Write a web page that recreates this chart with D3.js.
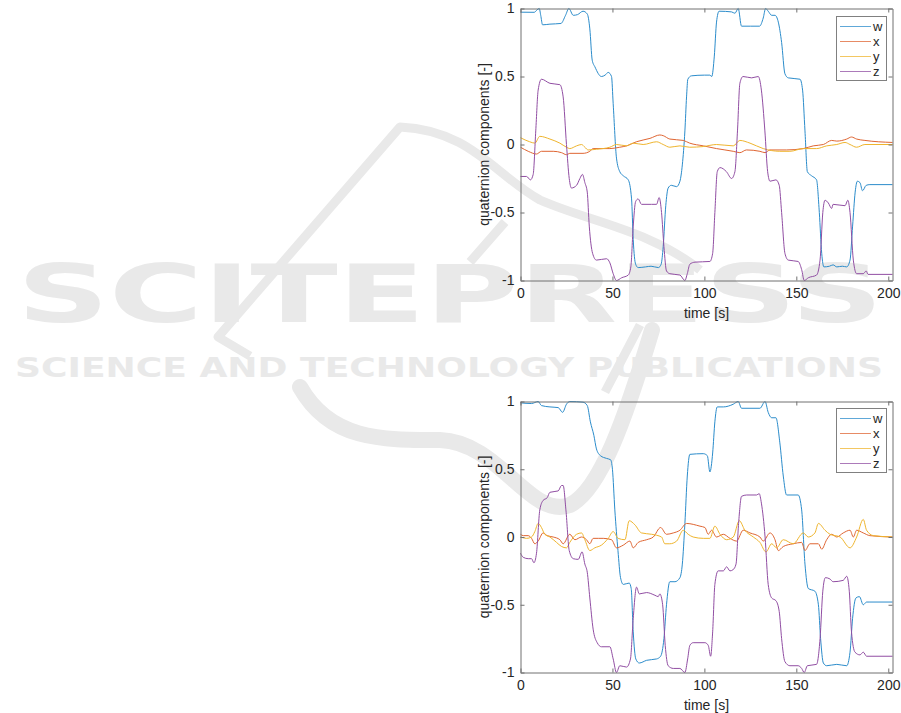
<!DOCTYPE html>
<html>
<head>
<meta charset="utf-8">
<script src="https://cdn.jsdelivr.net/npm/d3@7"></script>
<style>
  html, body { margin: 0; padding: 0; background: #ffffff; }
  svg { display: block; }
  text { font-family: "Liberation Sans", Arial, sans-serif; }
</style>
</head>
<body>
<svg id="chart" width="901" height="713"></svg>
<script>
// ---------------- DATA ----------------
const seriesNames = ["w", "x", "y", "z"];
const xTicks = [0, 50, 100, 150, 200];
const yTicks = [-1, -0.5, 0, 0.5, 1];
const xLabel = "time [s]";
const yLabel = "quaternion components [-]";
const watermarkTitle = "SCITEPRESS";
const watermarkSub = "SCIENCE AND TECHNOLOGY PUBLICATIONS";

// Top panel, [time, value]
const topW = [[0,0.973],[7.5,0.972],[9,0.99],[10.2,1.0],[11,0.95],[12,0.88],[16,0.885],[22,0.89],[24.5,0.95],[26.3,1.0],[28.7,0.95],[31,0.955],[34,0.98],[36.3,0.96],[37.7,0.85],[39,0.62],[40.5,0.57],[44,0.50],[46,0.51],[47.7,0.53],[49.5,0.5],[50.4,0.3],[52.2,-0.1],[54,-0.2],[55.9,-0.23],[58.6,-0.26],[60.4,-0.4],[61.3,-0.7],[62.6,-0.88],[64,-0.905],[68,-0.9],[71,-0.895],[75,-0.905],[76.5,-0.88],[77.6,-0.75],[79,-0.45],[80.3,-0.32],[82,-0.3],[84.9,-0.31],[86.7,-0.27],[88,-0.15],[89.4,0.1],[90.3,0.35],[91,0.48],[93,0.505],[100,0.51],[103,0.51],[104,0.5],[105.4,0.65],[106.6,0.9],[108,0.98],[114.8,0.975],[116.6,0.965],[118.4,1.0],[120.2,0.87],[125,0.87],[130,0.87],[132,0.93],[133.3,1.0],[134.7,0.98],[136.6,0.95],[138.4,0.95],[140.2,0.9],[142,0.75],[143.8,0.52],[145.6,0.49],[152,0.48],[153.4,0.4],[154.7,0.1],[156,-0.2],[158.3,-0.23],[161,-0.26],[162.5,-0.5],[163.8,-0.8],[165,-0.9],[168,-0.895],[170,-0.885],[172,-0.9],[175,-0.895],[177.4,-0.9],[179.2,-0.85],[180.6,-0.6],[182,-0.35],[183.2,-0.27],[184.6,-0.28],[186,-0.34],[188,-0.3],[190,-0.295],[202.3,-0.295]];
const topX = [[0,-0.02],[4.2,-0.05],[8.7,-0.07],[11.4,-0.05],[17.8,-0.05],[22.3,-0.06],[25,-0.075],[26.8,-0.065],[34,-0.065],[37.7,-0.05],[39.5,-0.03],[48.6,-0.03],[54,-0.02],[57.7,-0.01],[63,0.02],[70.4,0.045],[75.8,0.07],[77.6,0.065],[81.2,0.04],[88.5,0.03],[92,0.01],[99.4,-0.01],[106.6,-0.03],[115.7,-0.05],[119.3,-0.06],[122.9,-0.04],[130.2,-0.05],[133,-0.06],[135.7,-0.04],[144.7,-0.04],[153.8,-0.03],[159.2,-0.01],[164.7,0.0],[169.2,0.03],[172,0.025],[177.4,0.04],[180,0.055],[182.8,0.04],[187.3,0.03],[202.3,0.015]];
const topY = [[0,0.05],[5,0.02],[7.8,0.01],[10.5,0.06],[16,0.04],[21.4,0.01],[25,-0.02],[26.8,-0.03],[30.5,-0.01],[33.2,0.0],[35,-0.02],[36.8,-0.04],[41.3,-0.035],[48.6,-0.02],[52.2,0.0],[57.7,-0.01],[61.3,0.01],[66.7,0.0],[74,0.02],[77.6,0.0],[81.2,-0.02],[86.7,-0.01],[92,-0.02],[99.4,-0.015],[106.6,0.0],[115.7,-0.01],[119.3,0.03],[124.8,0.01],[132,-0.03],[141,-0.05],[146.5,-0.05],[153.8,-0.03],[161,-0.03],[166.5,-0.01],[172,0.0],[176.5,0.015],[179.2,0.0],[182.8,-0.02],[187.3,0.0],[202.3,0.0]];
const topZ = [[0,-0.235],[3.3,-0.235],[5.4,-0.26],[6.9,-0.22],[8.3,0.1],[9.6,0.4],[11.4,0.48],[16,0.45],[21.4,0.44],[23.2,0.35],[25,0.0],[26.5,-0.25],[27.7,-0.32],[30.5,-0.3],[32.3,-0.25],[33.7,-0.22],[35,-0.28],[36.3,-0.35],[37.4,-0.6],[39.2,-0.8],[41.3,-0.85],[46.8,-0.84],[48.6,-0.87],[50.4,-0.95],[52.2,-1.0],[55,-0.98],[58.6,-0.96],[60,-0.9],[61.3,-0.6],[62.6,-0.42],[64,-0.4],[65.8,-0.44],[71.3,-0.44],[74,-0.44],[75.4,-0.39],[76.7,-0.5],[78,-0.75],[79.4,-0.93],[81.2,-0.95],[86.7,-0.96],[89.4,-1.0],[90.7,-0.95],[92.1,-0.88],[94.9,-0.865],[103,-0.86],[104.5,-0.8],[105.7,-0.5],[107,-0.2],[108.5,-0.17],[112,-0.2],[114.8,-0.25],[116.6,-0.2],[118,0.1],[119.3,0.45],[121,0.5],[125.7,0.49],[129.3,0.5],[131,0.4],[132.9,0.1],[134.4,-0.2],[135.7,-0.27],[138.9,-0.26],[140.7,-0.3],[142,-0.5],[143.8,-0.8],[145.6,-0.85],[151,-0.86],[152.9,-0.92],[154.3,-1.0],[156.5,-0.98],[161,-0.96],[162.9,-0.85],[164.4,-0.5],[165.6,-0.41],[167.4,-0.43],[169.2,-0.47],[170,-0.44],[176.5,-0.45],[178,-0.41],[179.2,-0.5],[181,-0.85],[182.8,-0.95],[186.4,-0.95],[188,-0.93],[189,-0.955],[202.3,-0.955]];

// Bottom panel, [time, value]
const botW = [[0,0.99],[6,0.985],[9.6,1.0],[11.4,0.97],[16,0.96],[20.5,0.955],[22.9,0.92],[25,0.98],[26.8,1.0],[34,0.995],[36.3,0.97],[38,0.85],[39.9,0.75],[41.3,0.65],[43.5,0.6],[46.8,0.58],[49,0.57],[50,0.5],[51.3,0.2],[53,-0.1],[54.4,-0.3],[55.9,-0.35],[59.1,-0.34],[60.2,-0.38],[61.3,-0.7],[62.7,-0.9],[64.6,-0.93],[68.6,-0.91],[74,-0.9],[76.2,-0.88],[78,-0.75],[79.4,-0.5],[81.2,-0.33],[84,-0.33],[86.7,-0.3],[88,-0.2],[89.4,0.1],[90.7,0.45],[92.1,0.61],[99.4,0.615],[101.6,0.6],[103,0.48],[104.5,0.62],[105.7,0.85],[107,0.96],[110.3,0.96],[115.7,0.98],[118.4,1.0],[120.2,0.95],[130.2,0.95],[133,1.0],[134.7,0.92],[136.6,0.88],[138.9,0.88],[141,0.7],[142.9,0.45],[144.7,0.31],[151,0.31],[152.9,0.2],[154.7,-0.2],[156.5,-0.38],[160.1,-0.4],[162,-0.5],[163.2,-0.75],[164.7,-0.93],[166.5,-0.95],[172,-0.94],[177.4,-0.95],[179.2,-0.85],[180.6,-0.6],[182.4,-0.45],[184.3,-0.44],[186.4,-0.5],[188.2,-0.48],[190,-0.48],[202.3,-0.48]];
const botX = [[0,0.02],[1.5,0.01],[4.2,0.01],[6,-0.01],[7.8,-0.05],[9.6,-0.03],[12.3,0.03],[14.5,0.01],[17.8,0.0],[21.4,-0.02],[23.2,-0.05],[26.8,0.02],[29.6,-0.02],[33.2,0.0],[35.9,-0.02],[37.7,-0.05],[39.5,-0.01],[42.3,-0.01],[45,-0.01],[49.5,-0.02],[52.2,-0.08],[55.9,-0.06],[59.5,-0.03],[61.3,-0.08],[64,-0.04],[68.6,-0.02],[72.2,0.0],[76.2,0.07],[79.4,0.02],[83.1,0.03],[86.7,0.05],[90.3,0.1],[97.6,0.08],[100.3,0.07],[102.1,0.02],[103.9,0.05],[106.6,0.0],[110.3,0.02],[113.9,-0.01],[117.5,-0.03],[121.1,0.05],[124.8,0.03],[130.2,0.0],[132,-0.03],[135.7,0.03],[138.4,-0.02],[140.2,-0.1],[142.9,-0.07],[148.3,-0.05],[152.9,-0.04],[154.7,-0.1],[157.4,-0.05],[162,-0.05],[163.8,-0.09],[166.5,-0.02],[169.2,0.02],[172,0.0],[175.5,0.03],[179.2,0.05],[181,0.0],[182.8,0.05],[186.4,0.03],[190,0.01],[202.3,0.0]];
const botY = [[0,0.0],[3.3,-0.01],[6,0.0],[7.8,0.04],[9.6,0.1],[11.4,0.07],[13.2,0.02],[16,0.0],[19.6,-0.04],[22.3,-0.07],[25,-0.08],[26.8,-0.04],[30.5,0.02],[33.2,0.03],[35,-0.02],[37.7,-0.1],[40.4,-0.08],[44,-0.06],[47.7,-0.01],[50.4,0.04],[53.1,-0.01],[56.8,-0.02],[59.1,0.12],[62.2,0.09],[65.8,0.03],[71.3,0.02],[76.7,0.0],[78.5,-0.05],[81.2,-0.05],[84.9,-0.03],[88.5,0.05],[91.2,0.02],[93.9,0.0],[99.4,-0.01],[103,-0.01],[105.7,0.08],[108.5,0.02],[112.1,-0.02],[115.7,0.0],[119,0.12],[122,0.05],[126.6,0.0],[130.2,-0.04],[133.5,-0.11],[136.6,-0.05],[139.3,-0.08],[142.9,-0.02],[148.3,-0.05],[153.8,0.03],[156.5,0.0],[160.1,0.03],[162,0.1],[165.6,0.05],[168.3,0.02],[173.8,0.0],[179.2,-0.08],[182.8,0.0],[186.4,0.13],[188.2,0.05],[191.9,0.01],[202.3,0.0]];
const botZ = [[0,-0.12],[1.5,-0.15],[4.2,-0.16],[6,-0.16],[7.3,-0.19],[8.7,-0.12],[10.5,0.2],[12.3,0.27],[14.5,0.29],[16,0.33],[20.5,0.34],[22.3,0.38],[23.2,0.38],[24.7,0.2],[26.5,-0.1],[28.7,-0.16],[31.4,-0.165],[33.5,-0.11],[35,-0.2],[36.3,-0.26],[37.7,-0.45],[39.5,-0.68],[41.7,-0.78],[44,-0.81],[48.6,-0.81],[50.4,-0.9],[52.2,-1.0],[54,-0.95],[57.7,-0.96],[59.8,-0.9],[61.3,-0.6],[63.1,-0.37],[64.6,-0.42],[68.6,-0.41],[73.1,-0.43],[74.9,-0.44],[75.8,-0.42],[77.3,-0.5],[78.7,-0.8],[80.3,-0.95],[83.1,-0.97],[86.7,-0.97],[89.4,-1.0],[90.9,-0.9],[92.1,-0.8],[93.9,-0.78],[100.3,-0.78],[102.1,-0.8],[103.4,-0.88],[104.5,-0.7],[105.7,-0.35],[107.5,-0.25],[110.3,-0.25],[112.1,-0.22],[113.9,-0.25],[115.7,-0.24],[117.2,-0.2],[118.6,0.1],[120.2,0.3],[123,0.31],[128.4,0.31],[129.8,0.32],[131,0.25],[133,0.0],[134.7,-0.35],[136.6,-0.45],[138.9,-0.47],[140.7,-0.55],[142,-0.75],[143.8,-0.92],[146.5,-0.95],[151,-0.95],[152.9,-0.97],[154.3,-1.0],[156,-0.95],[161,-0.94],[162.9,-0.75],[164.4,-0.4],[165.8,-0.3],[168.3,-0.31],[170,-0.33],[175.5,-0.32],[177.4,-0.29],[178.8,-0.4],[180,-0.7],[181.9,-0.85],[184.6,-0.87],[186.4,-0.85],[188.2,-0.88],[202.3,-0.88]];

const colors = ["#2b8ccb", "#df6532", "#efb52e", "#914ea3"];

// ---------------- DRAW ----------------
const svg = d3.select("#chart");

// watermark (light gray, behind)
const wm = svg.append("g").attr("class", "watermark");
const wmColor = "#e9e9e9";
wm.append("path")
  .attr("d", "M250,356 L218,337 L400,127 C470,130 495,175 540,200 C590,222 650,230 700,270")
  .attr("fill", "none").attr("stroke", wmColor).attr("stroke-width", 9).attr("stroke-linejoin", "round");
wm.append("path")
  .attr("d", "M300,387 C330,440 380,440 440,440 C500,442 530,520 570,505 C600,490 625,420 652,330")
  .attr("fill", "none").attr("stroke", wmColor).attr("stroke-width", 16).attr("stroke-linecap", "round");
wm.append("path")
  .attr("d", "M505,222 L470,262 M640,325 L605,392")
  .attr("fill", "none").attr("stroke", wmColor).attr("stroke-width", 9);
wm.append("text")
  .attr("x", 17).attr("y", 322)
  .attr("textLength", 866).attr("lengthAdjust", "spacingAndGlyphs")
  .style("font-family", "'DejaVu Sans', sans-serif").style("font-weight", "bold")
  .style("font-size", "81px").attr("fill", wmColor)
  .text(watermarkTitle);
wm.append("text")
  .attr("x", 15).attr("y", 377)
  .attr("textLength", 868).attr("lengthAdjust", "spacingAndGlyphs")
  .style("font-family", "'DejaVu Sans', sans-serif").style("font-weight", "bold")
  .style("font-size", "26px").attr("fill", wmColor)
  .text(watermarkSub);

function panel(data, top, bottom, legendTop) {
  const left = 520.5, right = 892.5;
  const x = d3.scaleLinear().domain([0, 202.3]).range([left, right]);
  const y = d3.scaleLinear().domain([-1, 1]).range([bottom, top]);
  const g = svg.append("g");
  const axisColor = "#707070";
  const textColor = "#262626";
  const fs = "14px";

  // lines
  const line = d3.line().x(d => x(d[0])).y(d => y(d[1])).curve(d3.curveMonotoneX);
  data.forEach((s, i) => {
    g.append("path").datum(s).attr("d", line)
      .attr("fill", "none").attr("stroke", colors[i]).attr("stroke-width", 1);
  });

  // axes (box with inward ticks)
  const tl = 4;
  const axB = g.append("g").attr("transform", `translate(0,${bottom})`)
    .call(d3.axisBottom(x).tickValues(xTicks).tickSizeInner(-tl).tickSizeOuter(0).tickPadding(8).tickFormat(d => String(d)));
  const axT = g.append("g").attr("transform", `translate(0,${top})`)
    .call(d3.axisTop(x).tickValues(xTicks).tickSizeInner(-tl).tickSizeOuter(0).tickFormat(""));
  const axL = g.append("g").attr("transform", `translate(${left},0)`)
    .call(d3.axisLeft(y).tickValues(yTicks).tickSizeInner(-tl).tickSizeOuter(0).tickFormat(d => String(d)));
  const axR = g.append("g").attr("transform", `translate(${right},0)`)
    .call(d3.axisRight(y).tickValues(yTicks).tickSizeInner(-tl).tickSizeOuter(0).tickFormat(""));
  [axB, axT, axL, axR].forEach(a => {
    a.select(".domain").attr("stroke", axisColor);
    a.selectAll(".tick line").attr("stroke", axisColor);
    a.selectAll("text").attr("fill", textColor).style("font-size", fs)
      .style("font-family", "'Liberation Sans', Arial, sans-serif");
  });
  axL.selectAll("text").attr("x", -6);

  // axis labels
  g.append("text").attr("x", (left + right) / 2).attr("y", bottom + 37)
    .attr("text-anchor", "middle").attr("fill", textColor).style("font-size", fs).text(xLabel);
  g.append("text").attr("transform", `translate(484,${(top + bottom) / 2}) rotate(-90)`)
    .attr("text-anchor", "middle").attr("dominant-baseline", "central")
    .attr("fill", textColor).style("font-size", fs).text(yLabel);

  // legend
  const lx0 = 836.5, lx1 = 886.5, lh = 64;
  const lg = g.append("g");
  lg.append("rect").attr("x", lx0).attr("y", legendTop).attr("width", lx1 - lx0).attr("height", lh)
    .attr("fill", "#ffffff").attr("stroke", "#808080").attr("stroke-width", 1);
  seriesNames.forEach((n, i) => {
    const yy = legendTop + 10 + i * 15;
    lg.append("line").attr("x1", 840).attr("x2", 871).attr("y1", yy).attr("y2", yy)
      .attr("stroke", colors[i]).attr("stroke-width", 1).attr("opacity", 0.75);
    lg.append("text").attr("x", 873).attr("y", yy).attr("dominant-baseline", "central")
      .attr("fill", textColor).style("font-size", "13px").text(n);
  });
}

panel([topW, topX, topY, topZ], 8.5, 280.5, 16.5);
panel([botW, botX, botY, botZ], 401.5, 672.5, 408.5);
</script>
</body>
</html>
